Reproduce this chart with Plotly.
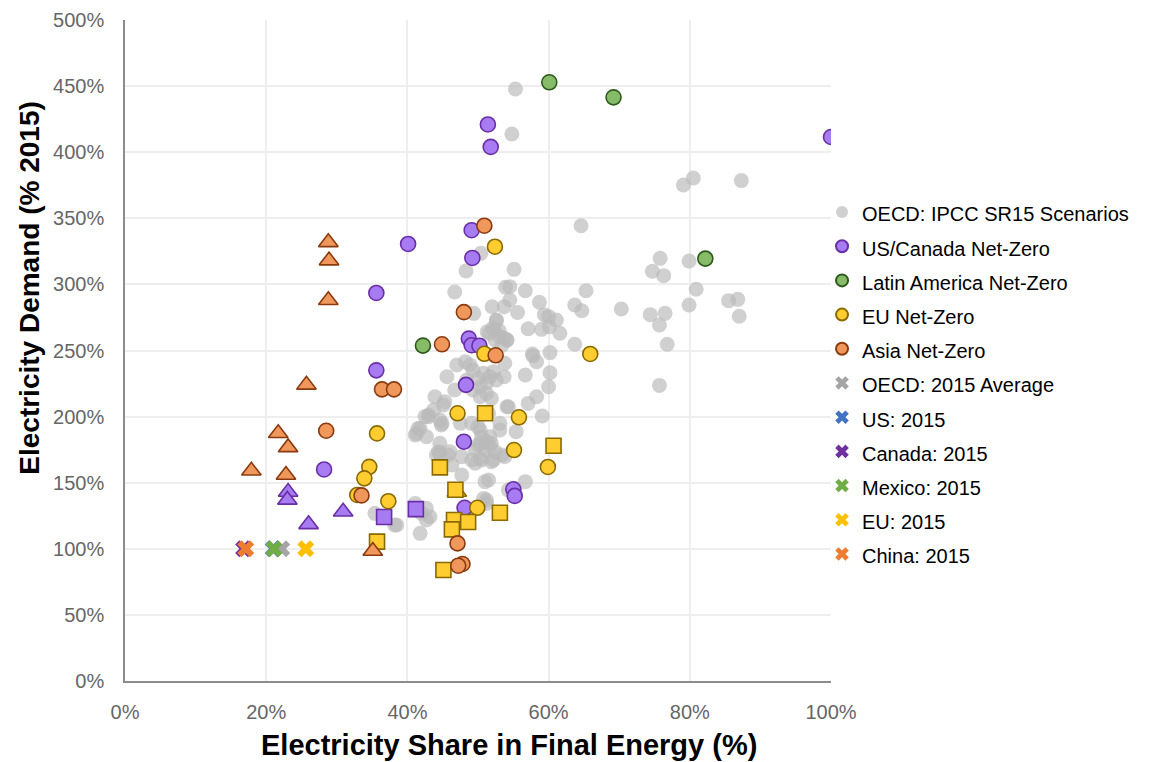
import plotly.graph_objects as go

# ---------------- DATA ----------------
# OECD: IPCC SR15 scenarios (electricity share %, demand % of 2015)
oecd_x = [55.3, 54.8, 79.1, 80.5, 87.3, 64.6, 75.8, 74.7, 76.3, 79.9, 80.9, 79.9, 85.5, 86.8, 87.0,
          76.8, 75.7, 74.4, 76.5, 70.3, 65.3, 63.7, 64.7, 63.7, 55.1, 50.4, 48.3, 46.7, 49.4, 53.9,
          54.5, 56.7, 52.0, 53.7, 54.5, 55.6, 58.7, 59.4, 60.0, 61.1, 61.6, 57.1, 59.0, 60.1, 52.6,
          52.3, 51.3, 53.1, 54.1, 57.7, 60.2, 75.7, 52.6, 52.1, 53.0, 51.6, 53.7, 54.1, 52.4, 53.4,
          57.8, 58.3, 53.8, 52.2, 51.7, 50.8, 50.0, 49.3, 48.9, 48.2, 47.0, 45.6, 48.4, 51.2, 52.6,
          53.7, 56.7, 60.2, 60.0, 58.3, 57.1, 59.1, 54.3, 55.4, 50.3, 51.2, 51.9, 50.3, 49.3, 43.9,
          45.3, 43.0, 45.1, 46.7, 44.9, 41.8, 41.1, 42.7, 44.6, 47.5, 50.3, 51.7, 53.1, 50.3, 51.7,
          43.0, 44.8, 49.1, 50.0, 51.5, 53.1, 54.1, 50.5, 51.2, 51.9, 50.0, 49.6, 51.0, 52.4, 53.4,
          50.5, 49.1, 51.9, 47.7, 45.8, 44.4, 47.7, 51.0, 51.5, 56.7, 54.3, 50.8, 51.2, 41.1, 42.7,
          44.1, 46.0, 46.3, 49.6, 50.3, 52.2, 53.8, 55.2, 42.0, 43.2, 42.7, 38.2, 41.8, 35.4, 38.5,
          41.1, 41.3, 44.6, 43.7, 44.6, 51.2, 42.5, 41.5]
oecd_y = [447.8, 413.8, 375.2, 380.5, 378.5, 344.4, 319.7, 310.0, 306.6, 317.7, 296.3, 284.4, 287.7, 288.7, 275.9,
          254.7, 269.3, 277.1, 278.1, 281.4, 295.2, 284.4, 280.1, 254.7, 311.4, 323.5, 310.1, 294.3, 278.1, 297.8,
          298.3, 295.2, 283.1, 283.1, 288.2, 278.7, 286.5, 277.1, 275.6, 273.1, 263.0, 266.5, 266.0, 268.0, 273.1,
          265.5, 264.2, 260.4, 258.0, 247.4, 248.4, 223.6, 272.5, 267.0, 264.9, 262.9, 259.4, 257.7, 258.2, 253.9,
          245.8, 241.5, 240.3, 234.0, 230.2, 232.8, 229.0, 235.2, 239.0, 241.5, 239.0, 230.2, 227.7, 225.2, 227.7,
          230.2, 231.5, 233.2, 222.6, 215.0, 210.0, 200.5, 207.5, 188.6, 222.6, 217.6, 213.8, 215.0, 220.1, 215.0,
          211.3, 201.2, 208.8, 220.1, 194.9, 191.1, 186.1, 184.8, 179.8, 194.9, 189.9, 184.8, 189.9, 179.8, 177.3,
          199.9, 193.6, 194.9, 192.4, 202.5, 194.9, 207.5, 184.8, 181.0, 179.8, 178.5, 174.7, 174.7, 173.5, 171.0,
          167.2, 167.2, 165.9, 169.7, 171.0, 173.5, 155.8, 150.8, 152.0, 150.8, 144.5, 138.0, 134.3, 134.3, 130.6,
          171.0, 173.5, 163.4, 164.7, 168.5, 167.2, 169.7, 145.7, 126.8, 124.2, 121.8, 118.0, 111.7, 126.8, 118.0,
          129.4, 187.3, 197.4, 205.0, 172.2, 136.9, 200.0, 191.0]

# US/Canada Net-Zero
usca_circle_x = [51.4, 51.8, 100.0, 40.1, 35.6, 49.2, 49.1, 35.6, 28.2, 48.7, 49.1, 50.2, 48.3, 48.0, 55.0, 55.2, 48.1]
usca_circle_y = [421.0, 404.0, 411.5, 330.6, 293.5, 320.0, 341.0, 235.0, 160.0, 259.0, 254.0, 253.6, 224.0, 181.0, 145.0, 140.0, 131.0]
usca_tri_x = [23.1, 23.0, 30.9, 26.0]
usca_tri_y = [143.0, 137.0, 128.0, 118.5]
usca_sq_x = [36.7, 41.2]
usca_sq_y = [124.0, 130.0]

# Latin America Net-Zero
latam_x = [60.1, 69.2, 82.2, 42.2]
latam_y = [452.9, 441.5, 319.5, 253.7]

# EU Net-Zero
eu_circle_x = [52.4, 50.9, 65.9, 47.1, 55.8, 35.7, 34.6, 33.9, 32.9, 37.3, 55.1, 59.9, 49.9]
eu_circle_y = [328.5, 247.5, 247.4, 202.5, 199.5, 187.3, 162.0, 153.3, 140.7, 136.0, 174.7, 161.9, 131.0]
eu_tri_x = [47.0]
eu_tri_y = [143.0]
eu_sq_x = [51.0, 60.7, 44.6, 46.8, 53.1, 46.6, 48.6, 46.3, 45.1, 35.7]
eu_sq_y = [202.5, 178.0, 161.6, 144.7, 127.3, 121.8, 120.3, 114.7, 84.0, 105.4]

# Asia Net-Zero
asia_circle_x = [50.9, 48.0, 44.9, 52.5, 36.4, 38.1, 28.5, 33.5, 47.1, 47.8, 47.2]
asia_circle_y = [344.4, 279.0, 254.7, 246.4, 220.6, 220.6, 189.3, 140.4, 104.1, 88.5, 87.2]
asia_tri_x = [28.8, 28.9, 28.8, 25.7, 21.7, 23.1, 17.9, 22.8, 35.1]
asia_tri_y = [331.8, 318.0, 288.0, 224.0, 187.4, 176.7, 159.0, 155.8, 98.3]

# 2015 reference points
ref_names = ["OECD: 2015 Average", "US: 2015", "Canada: 2015", "Mexico: 2015", "EU: 2015", "China: 2015"]
ref_x = [22.2, 21.0, 16.8, 21.1, 25.6, 17.1]
ref_y = [100.0, 100.0, 100.0, 100.0, 100.0, 100.0]
ref_colors = ["#a5a5a5", "#4472c4", "#7030a0", "#70ad47", "#ffc000", "#ed7d31"]

x_ticks = [0, 20, 40, 60, 80, 100]
y_ticks = [0, 50, 100, 150, 200, 250, 300, 350, 400, 450, 500]
x_title = "Electricity Share in Final Energy (%)"
y_title = "Electricity Demand (% 2015)"

# ---------------- FIGURE ----------------
FONT = "Liberation Sans, Arial, Helvetica, sans-serif"
LEG = "<span style='font-size:20px'>{}</span>"
fig = go.Figure()

fig.add_trace(go.Scatter(x=oecd_x, y=oecd_y, mode="markers", name=LEG.format("OECD: IPCC SR15 Scenarios"),
                         marker=dict(size=15, color="rgba(185,185,185,0.68)", line=dict(width=0))))

def region(name, group, fill, edge, circ, tri=None, sq=None):
    fig.add_trace(go.Scatter(x=circ[0], y=circ[1], mode="markers", name=LEG.format(name), legendgroup=group,
                             marker=dict(size=15, symbol="circle", color=fill, line=dict(width=1.6, color=edge))))
    if tri is not None:
        fig.add_trace(go.Scatter(x=tri[0], y=tri[1], mode="markers", name=name, legendgroup=group,
                                 showlegend=False,
                                 marker=dict(size=17, symbol="triangle-up", color=fill,
                                             line=dict(width=1.6, color=edge))))
    if sq is not None:
        fig.add_trace(go.Scatter(x=sq[0], y=sq[1], mode="markers", name=name, legendgroup=group,
                                 showlegend=False,
                                 marker=dict(size=15, symbol="square", color=fill,
                                             line=dict(width=1.6, color=edge))))

region("US/Canada Net-Zero", "usca", "#a77cf3", "#6a2ea6",
       (usca_circle_x, usca_circle_y), (usca_tri_x, usca_tri_y), (usca_sq_x, usca_sq_y))
region("Latin America Net-Zero", "latam", "#86bb68", "#2d5a1c", (latam_x, latam_y))
region("EU Net-Zero", "eu", "#ffcd30", "#8a6a00",
       (eu_circle_x, eu_circle_y), (eu_tri_x, eu_tri_y), (eu_sq_x, eu_sq_y))
region("Asia Net-Zero", "asia", "#f0985c", "#8b3a10",
       (asia_circle_x, asia_circle_y), (asia_tri_x, asia_tri_y))

for nm, xx, yy, cc in zip(ref_names, ref_x, ref_y, ref_colors):
    fig.add_trace(go.Scatter(x=[xx], y=[yy], mode="markers", name=LEG.format(nm),
                             marker=dict(size=15, symbol="x", color=cc, line=dict(width=0))))

fig.update_layout(
    width=1143, height=754,
    paper_bgcolor="white", plot_bgcolor="white",
    margin=dict(l=117, r=320, t=12, b=81, autoexpand=False),
    font=dict(family=FONT, color="#000000"),
    showlegend=True,
    legend=dict(x=0.9873, xanchor="left", y=0.743, yanchor="top",
                font=dict(size=24, family=FONT, color="#000000"),
                bgcolor="rgba(0,0,0,0)", itemsizing="constant", tracegroupgap=0),
    xaxis=dict(range=[0, 100], tickvals=x_ticks, ticktext=[f"{v}%" for v in x_ticks],
               showgrid=True, automargin=False,
               gridcolor="#eeeeee", gridwidth=1.5, zeroline=False,
               showline=True, linecolor="#8c8c8c", linewidth=1.5,
               tickfont=dict(size=20, color="#666666", family=FONT), ticks="", ticklabelstandoff=12),
    yaxis=dict(range=[0, 500], tickvals=y_ticks, ticktext=[f"{v}%" for v in y_ticks],
               showgrid=True, automargin=False,
               gridcolor="#eeeeee", gridwidth=1.5, zeroline=False,
               showline=True, linecolor="#8c8c8c", linewidth=1.5,
               tickfont=dict(size=20, color="#666666", family=FONT), ticks="", ticklabelstandoff=15),
    annotations=[
        dict(text=f"<b>{x_title}</b>", xref="paper", yref="paper", x=0.5446, y=0,
             xanchor="center", yanchor="middle", yshift=-64, showarrow=False,
             font=dict(size=29, family=FONT, color="#000000")),
        dict(text=f"<b>{y_title}</b>", xref="paper", yref="paper", x=0, y=0.595,
             xanchor="center", yanchor="middle", xshift=-95, textangle=-90, showarrow=False,
             font=dict(size=28, family=FONT, color="#000000")),
    ],
)

fig.write_html("out.html")
